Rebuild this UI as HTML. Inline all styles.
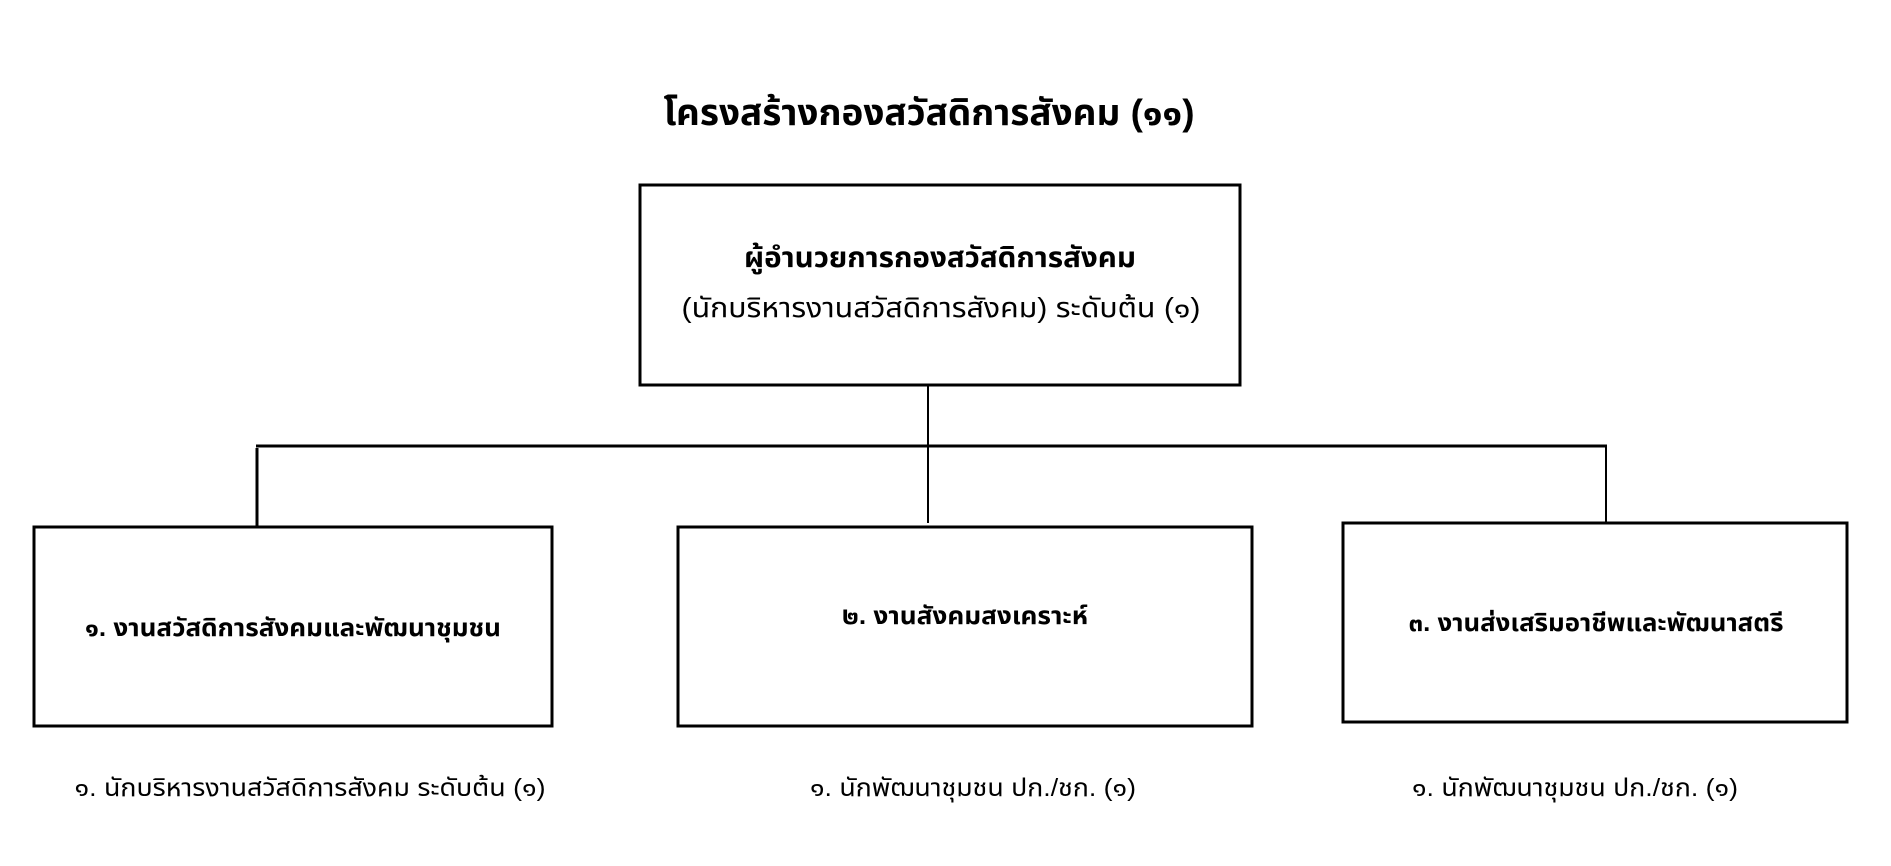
<!DOCTYPE html>
<html><head><meta charset="utf-8"><style>body{margin:0;background:#fff}svg{display:block}</style></head>
<body>
<svg width="1891" height="866" viewBox="0 0 1891 866" xmlns="http://www.w3.org/2000/svg" font-family="'Liberation Sans','Noto Sans Thai','Loma','Garuda',sans-serif" fill="#000">
<g fill="none" stroke="#000">
<rect x="640" y="185" width="600" height="200" stroke-width="3"/>
<rect x="34" y="527" width="518" height="199" stroke-width="3"/>
<rect x="678" y="527" width="574" height="199" stroke-width="3"/>
<rect x="1343" y="523" width="504" height="199" stroke-width="3"/>
<line x1="928" y1="385" x2="928" y2="446" stroke-width="2"/>
<line x1="256" y1="446" x2="1607" y2="446" stroke-width="3"/>
<line x1="257" y1="448" x2="257" y2="527" stroke-width="3"/>
<line x1="928" y1="446" x2="928" y2="523" stroke-width="2"/>
<line x1="1606" y1="446" x2="1606" y2="523" stroke-width="2"/>
</g>
<g text-anchor="middle">
<text x="929" y="125" font-size="36" font-weight="bold" textLength="531" lengthAdjust="spacingAndGlyphs">โครงสร้างกองสวัสดิการสังคม (๑๑)</text>
<text x="940" y="267" font-size="28" font-weight="bold" textLength="392" lengthAdjust="spacingAndGlyphs">ผู้อำนวยการกองสวัสดิการสังคม</text>
<text x="941" y="317" font-size="28" textLength="519" lengthAdjust="spacingAndGlyphs">(นักบริหารงานสวัสดิการสังคม) ระดับต้น (๑)</text>
<text x="293" y="636" font-size="25" font-weight="bold" textLength="416" lengthAdjust="spacingAndGlyphs">๑. งานสวัสดิการสังคมและพัฒนาชุมชน</text>
<text x="965" y="624" font-size="25" font-weight="bold" textLength="246" lengthAdjust="spacingAndGlyphs">๒. งานสังคมสงเคราะห์</text>
<text x="1596" y="631" font-size="25" font-weight="bold" textLength="375" lengthAdjust="spacingAndGlyphs">๓. งานส่งเสริมอาชีพและพัฒนาสตรี</text>
<text x="310" y="796" font-size="25" textLength="471" lengthAdjust="spacingAndGlyphs">๑. นักบริหารงานสวัสดิการสังคม ระดับต้น (๑)</text>
<text x="973" y="796" font-size="25" textLength="326" lengthAdjust="spacingAndGlyphs">๑. นักพัฒนาชุมชน ปก./ชก. (๑)</text>
<text x="1575" y="796" font-size="25" textLength="326" lengthAdjust="spacingAndGlyphs">๑. นักพัฒนาชุมชน ปก./ชก. (๑)</text>
</g>
</svg>
</body></html>
